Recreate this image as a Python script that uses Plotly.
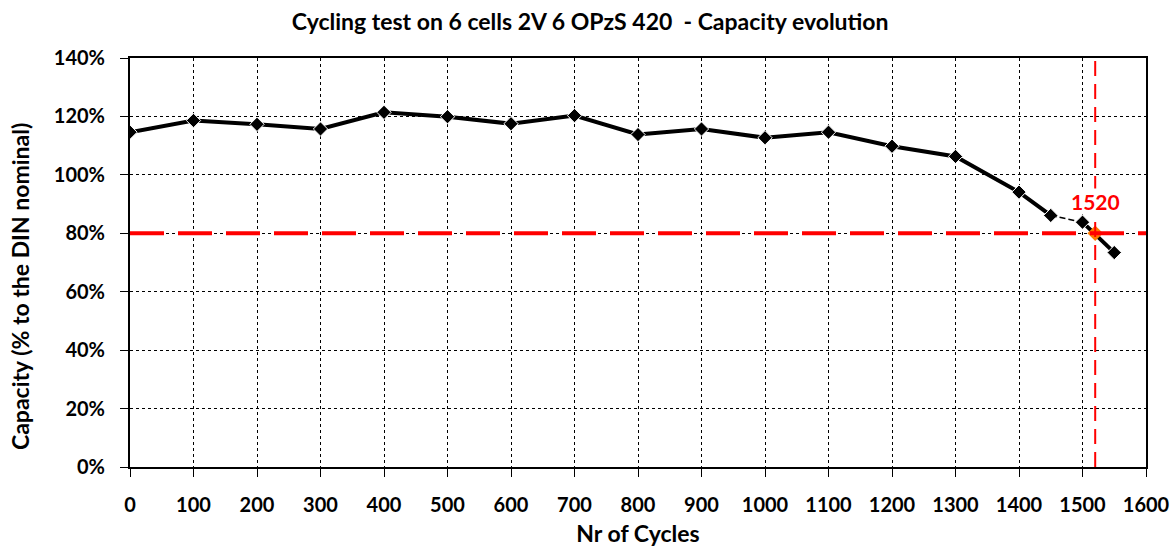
import plotly.graph_objects as go

# Capacity measured every 100 cycles (fraction of DIN nominal)
cycles = [0, 100, 200, 300, 400, 500, 600, 700, 800, 900, 1000, 1100, 1200, 1300, 1400, 1450, 1500, 1550]
capacity = [1.146, 1.186, 1.173, 1.157, 1.214, 1.199, 1.175, 1.203, 1.138, 1.157, 1.127, 1.146,
            1.098, 1.063, 0.941, 0.861, 0.838, 0.734]

# End-of-life threshold and the cycle count where it is crossed
eol_level = 0.80
eol_cycle = 1520

x_ticks = list(range(0, 1601, 100))
y_ticks = [0, 0.2, 0.4, 0.6, 0.8, 1.0, 1.2, 1.4]
y_tick_labels = ["0%", "20%", "40%", "60%", "80%", "100%", "120%", "140%"]

FONT = "Lato, 'Open Sans', sans-serif"

fig = go.Figure()

marker = dict(symbol="diamond", size=11, color="black", line=dict(color="white", width=1))

# thick segments, with the thin link between 1450 and 1500
fig.add_trace(go.Scatter(x=cycles[:16], y=capacity[:16], mode="lines+markers",
                         line=dict(color="black", width=4), marker=marker, showlegend=False))
fig.add_trace(go.Scatter(x=cycles[15:17], y=capacity[15:17], mode="lines",
                         line=dict(color="black", width=1.5, dash="6px,3px"), showlegend=False))
fig.add_trace(go.Scatter(x=cycles[16:], y=capacity[16:], mode="lines+markers",
                         line=dict(color="black", width=4), marker=marker, showlegend=False))

# 80% threshold line
fig.add_shape(type="line", xref="paper", yref="y", x0=0, x1=1, y0=eol_level, y1=eol_level,
              line=dict(color="#FF0000", width=4, dash="34px,14px"))
# crossing cycle
fig.add_shape(type="line", xref="x", yref="paper", x0=eol_cycle, x1=eol_cycle, y0=0, y1=1,
              line=dict(color="#FF0000", width=2, dash="15px,8px"))

fig.add_trace(go.Scatter(x=[eol_cycle], y=[eol_level], mode="markers",
                         marker=dict(symbol="diamond", size=12, color="#FF7A00"), showlegend=False))
fig.add_annotation(x=eol_cycle, y=eol_level, text="<b>%d</b>" % eol_cycle, showarrow=False,
                   yshift=32, bgcolor="white", borderpad=0,
                   font=dict(family=FONT, size=21, color="#FF0000"))

# y-axis title, placed slightly below the plot centre
fig.add_annotation(xref="paper", yref="paper", x=0, y=0.44, xshift=-110,
                   xanchor="center", yanchor="middle", textangle=-90, showarrow=False,
                   text="<b>Capacity (% to the DIN nominal)</b>",
                   font=dict(family=FONT, size=23, color="black"))

fig.update_layout(
    width=1171, height=547,
    margin=dict(l=130, r=25, t=58, b=80),
    paper_bgcolor="white", plot_bgcolor="white",
    title=dict(text="<b>Cycling test on 6 cells 2V 6 OPzS 420  - Capacity evolution</b>",
               x=0.504, xanchor="center", y=0.96, yanchor="middle",
               font=dict(family=FONT, size=23, color="black")),
    font=dict(family=FONT, color="black"),
)

fig.update_xaxes(
    range=[0, 1600], tickmode="array", tickvals=x_ticks,
    ticktext=["<b>%d</b>" % v for v in x_ticks],
    tickfont=dict(family=FONT, size=20, color="black"),
    ticks="outside", ticklen=8, tickcolor="black", tickwidth=1,
    ticklabelstandoff=11, automargin=False,
    showline=True, linecolor="black", linewidth=2, mirror=True,
    showgrid=True, gridcolor="black", gridwidth=1, griddash="dot",
    zeroline=False,
    title=dict(text="<b>Nr of Cycles</b>", font=dict(family=FONT, size=23, color="black"), standoff=16),
)
fig.update_yaxes(
    range=[0, 1.4], tickmode="array", tickvals=y_ticks,
    ticktext=["<b>%s</b>" % t for t in y_tick_labels],
    tickfont=dict(family=FONT, size=20, color="black"),
    ticks="outside", ticklen=8, tickcolor="black", tickwidth=1,
    ticklabelstandoff=11, automargin=False,
    showline=True, linecolor="black", linewidth=2, mirror=True,
    showgrid=True, gridcolor="black", gridwidth=1, griddash="dot",
    zeroline=False,
)

fig.write_html("out.html")
